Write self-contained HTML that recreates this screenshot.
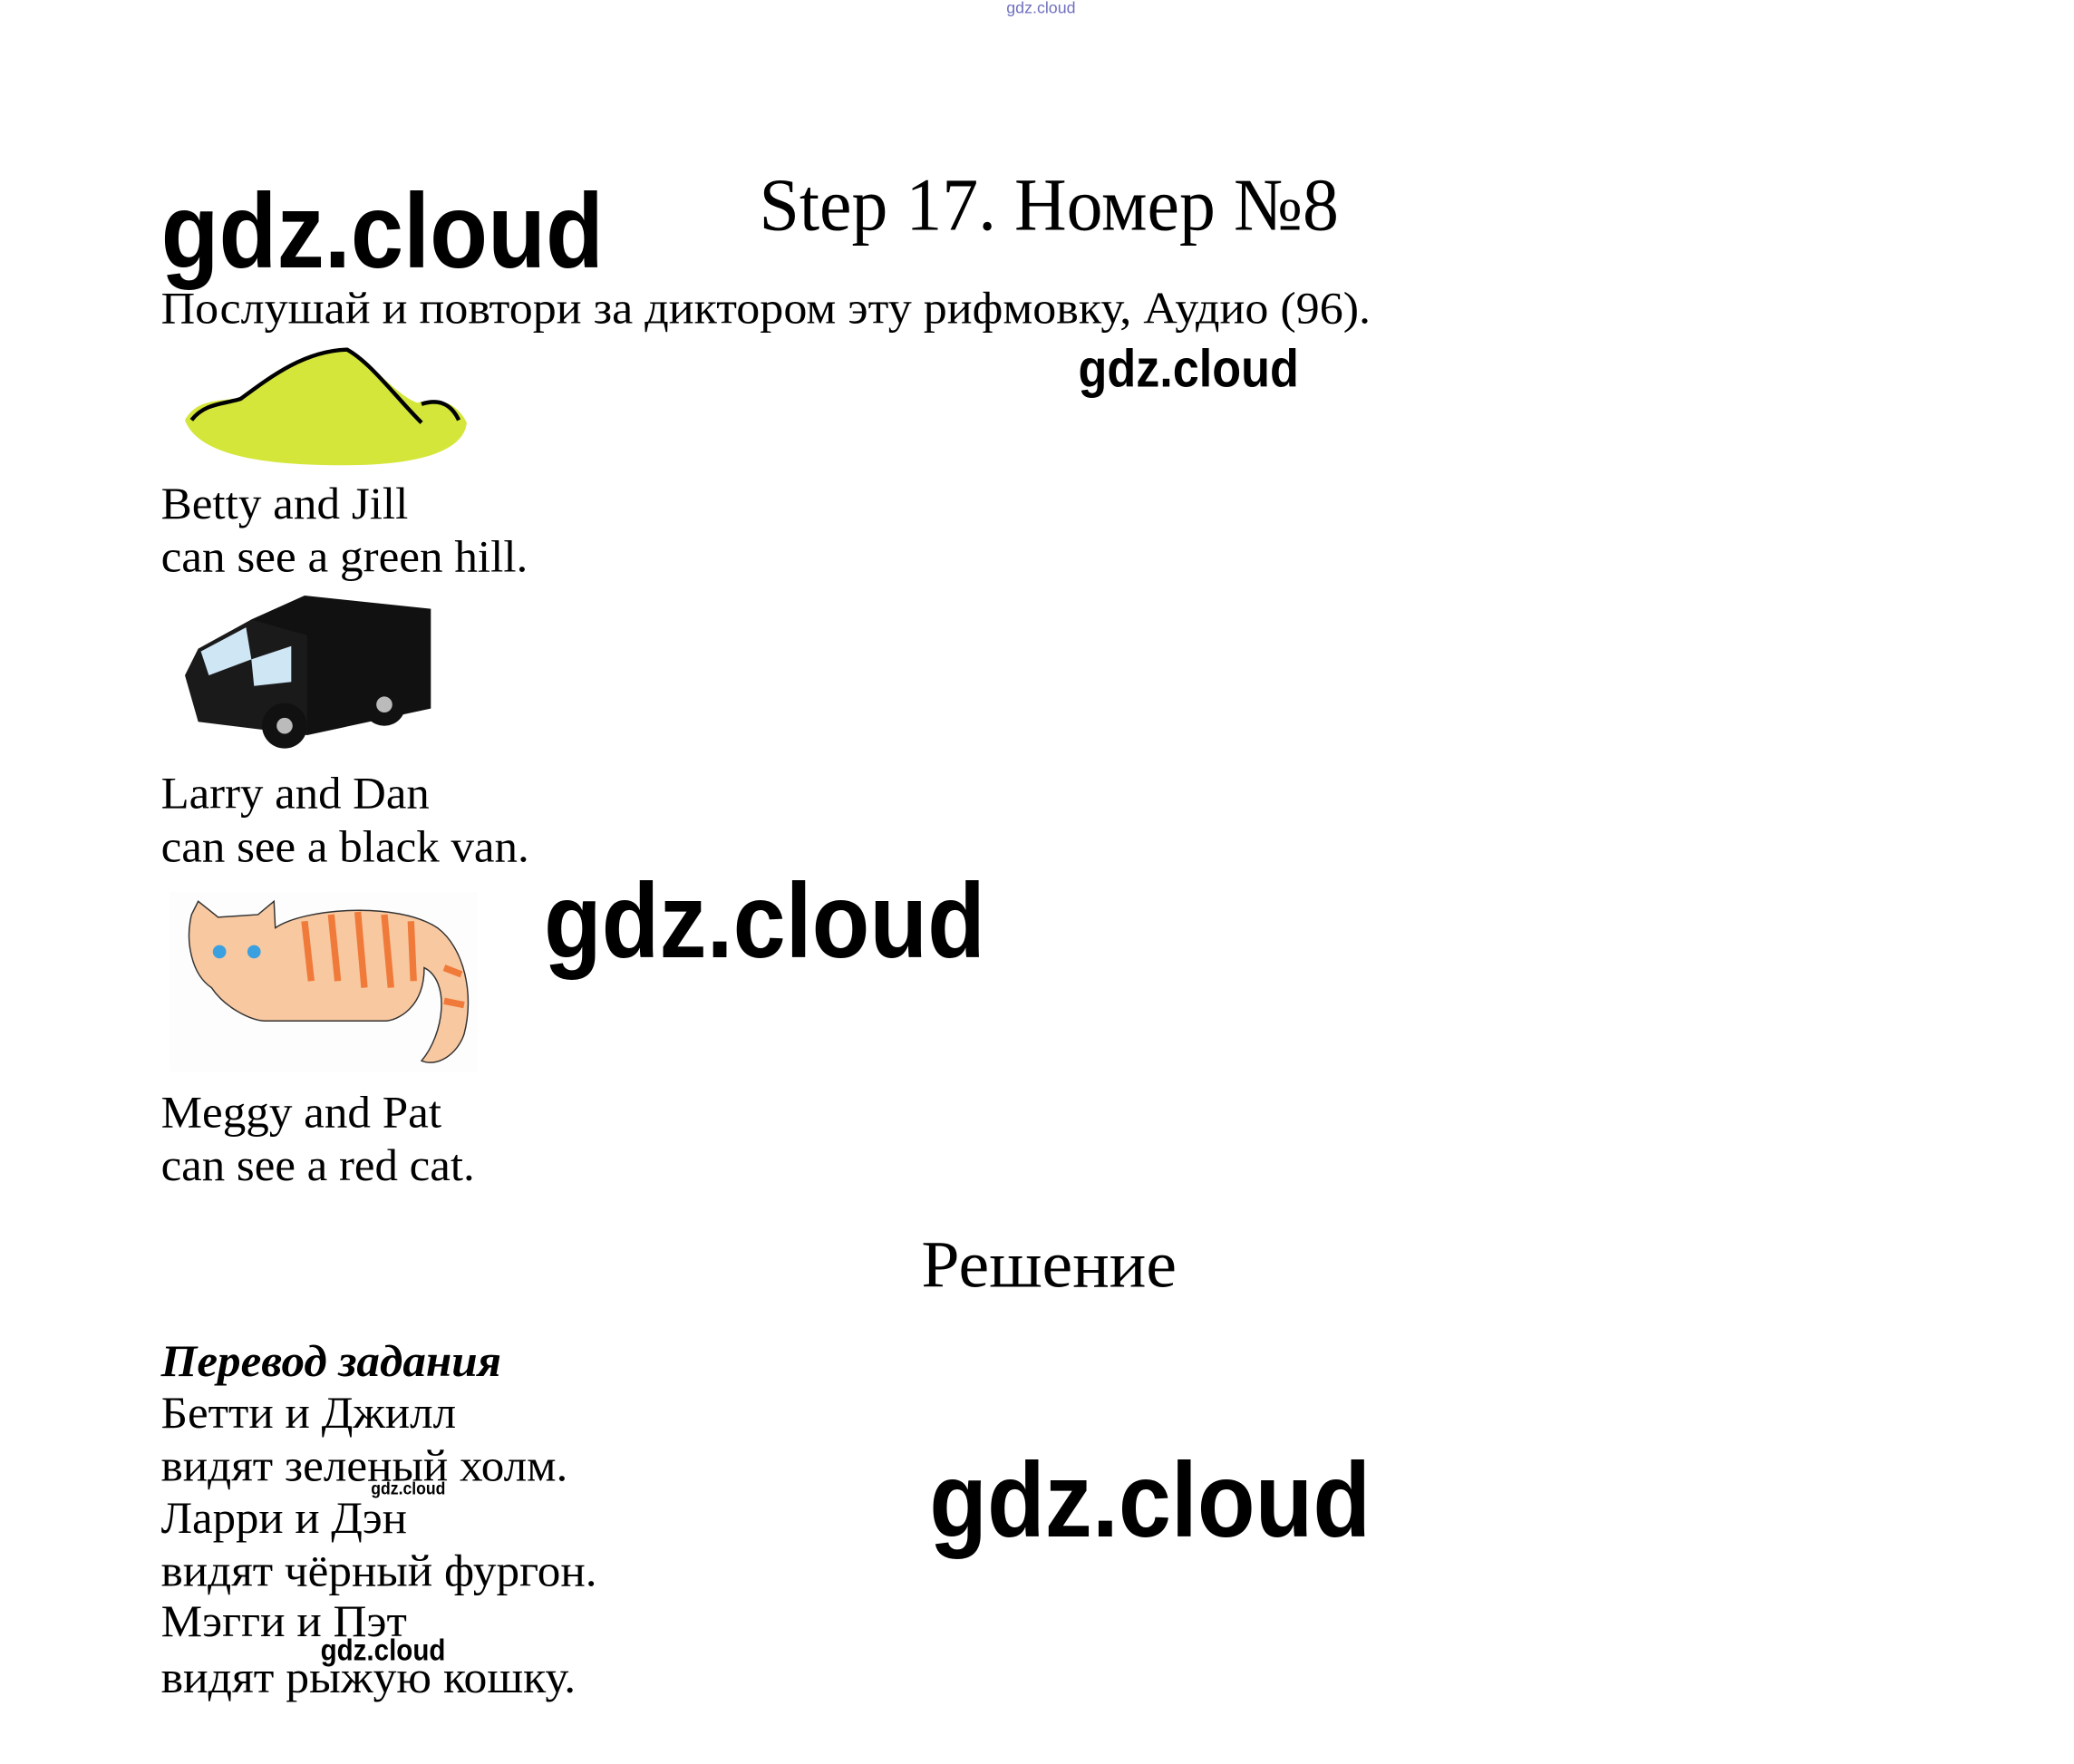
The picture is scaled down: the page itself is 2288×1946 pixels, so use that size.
<!DOCTYPE html>
<html><head><meta charset="utf-8"><style>html,body{margin:0;padding:0;background:#fff}svg{display:block}</style></head><body>
<svg width="2288" height="1946" viewBox="0 0 1560 1327" xmlns="http://www.w3.org/2000/svg">
<rect width="1560" height="1327" fill="#fff"/>
<g transform="translate(-1,-2)">
<g font-family="'Liberation Sans','DejaVu Sans',sans-serif" font-weight="bold" fill="#000">
<text x="758" y="12" font-size="12" fill="#7070c0" font-weight="normal" textLength="52" lengthAdjust="spacingAndGlyphs">gdz.cloud</text>
<text x="122" y="203" font-size="80" textLength="333" lengthAdjust="spacingAndGlyphs">gdz.cloud</text>
<text x="812" y="293" font-size="40" textLength="166" lengthAdjust="spacingAndGlyphs">gdz.cloud</text>
<text x="410" y="722" font-size="80" textLength="332" lengthAdjust="spacingAndGlyphs">gdz.cloud</text>
<text x="700" y="1158" font-size="80" textLength="332" lengthAdjust="spacingAndGlyphs">gdz.cloud</text>
</g>
<g font-family="'Liberation Serif','DejaVu Serif',serif" fill="#000">
<text x="572" y="175" font-size="56" textLength="436" lengthAdjust="spacingAndGlyphs">Step 17. Номер №8</text>
<text x="122" y="245" font-size="34" textLength="910" lengthAdjust="spacingAndGlyphs">Послушай и повтори за диктором эту рифмовку, Аудио (96).</text>
<text x="122" y="392" font-size="34" textLength="186" lengthAdjust="spacingAndGlyphs">Betty and Jill</text>
<text x="122" y="432" font-size="34" textLength="276" lengthAdjust="spacingAndGlyphs">can see a green hill.</text>
<text x="122" y="610" font-size="34" textLength="202" lengthAdjust="spacingAndGlyphs">Larry and Dan</text>
<text x="122" y="650" font-size="34" textLength="277" lengthAdjust="spacingAndGlyphs">can see a black van.</text>
<text x="122" y="850" font-size="34" textLength="211" lengthAdjust="spacingAndGlyphs">Meggy and Pat</text>
<text x="122" y="890" font-size="34" textLength="236" lengthAdjust="spacingAndGlyphs">can see a red cat.</text>
<text x="694" y="970" font-size="50" textLength="192" lengthAdjust="spacingAndGlyphs">Решение</text>
<text x="122" y="1037" font-size="34" font-weight="bold" font-style="italic" textLength="256" lengthAdjust="spacingAndGlyphs">Перевод задания</text>
<text x="122" y="1076" font-size="34" textLength="222" lengthAdjust="spacingAndGlyphs">Бетти и Джилл</text>
<text x="122" y="1116" font-size="34" textLength="306" lengthAdjust="spacingAndGlyphs">видят зеленый холм.</text>
<text x="122" y="1155" font-size="34" textLength="185" lengthAdjust="spacingAndGlyphs">Ларри и Дэн</text>
<text x="122" y="1195" font-size="34" textLength="328" lengthAdjust="spacingAndGlyphs">видят чёрный фургон.</text>
<text x="122" y="1233" font-size="34" textLength="185" lengthAdjust="spacingAndGlyphs">Мэгги и Пэт</text>
<text x="122" y="1275" font-size="34" textLength="312" lengthAdjust="spacingAndGlyphs">видят рыжую кошку.</text>
</g>
<g font-family="'Liberation Sans',sans-serif" font-weight="bold" fill="#000">
<text x="280" y="1126" font-size="13" textLength="56" lengthAdjust="spacingAndGlyphs">gdz.cloud</text>
<text x="242" y="1251" font-size="23" textLength="94" lengthAdjust="spacingAndGlyphs">gdz.cloud</text>
</g>
<path d="M140,318 C150,300 170,305 185,300 C205,285 230,265 262,264 C280,275 300,300 315,305 C330,300 345,305 352,320 C350,340 320,352 260,352 C200,352 150,345 140,318 Z" fill="#d4e63a"/>
<path d="M145,318 C155,305 170,306 182,302 C205,285 230,266 262,265 C280,275 298,300 318,320 M318,306 C330,302 340,305 346,318" fill="none" stroke="#000" stroke-width="3"/>
<polygon points="190,468 230,450 325,460 325,535 232,555 190,540" fill="#111"/>
<polygon points="150,490 190,468 232,480 232,555 150,545 140,510" fill="#1a1a1a"/>
<polygon points="152,492 186,474 190,498 158,510" fill="#cfe6f5"/>
<polygon points="190,498 220,488 220,515 192,518" fill="#cfe6f5"/>
<circle cx="215" cy="548" r="17" fill="#111"/><circle cx="215" cy="548" r="6" fill="#bbb"/>
<circle cx="290" cy="532" r="16" fill="#111"/><circle cx="290" cy="532" r="6" fill="#bbb"/>
<rect x="128" y="673" width="232" height="135" fill="#fdfdfd"/>
<path d="M145,690 L150,680 L165,692 L195,690 L207,680 L208,700 C230,685 300,680 330,700 C350,715 358,750 350,780 C345,795 330,805 318,800 C335,780 340,740 320,730 C320,760 300,770 290,770 L200,770 C190,770 170,760 160,745 C145,735 140,710 145,690 Z" fill="#f8c8a0" stroke="#333" stroke-width="1"/>
<g stroke="#f07a3a" stroke-width="5"><line x1="230" y1="695" x2="235" y2="740"/><line x1="250" y1="690" x2="255" y2="740"/><line x1="270" y1="688" x2="275" y2="745"/><line x1="290" y1="690" x2="295" y2="745"/><line x1="310" y1="695" x2="312" y2="740"/><line x1="335" y1="730" x2="348" y2="735"/><line x1="335" y1="755" x2="350" y2="758"/></g>
<circle cx="166" cy="718" r="5" fill="#3aa0e0"/><circle cx="192" cy="718" r="5" fill="#3aa0e0"/>
</g>
</svg>
</body></html>
